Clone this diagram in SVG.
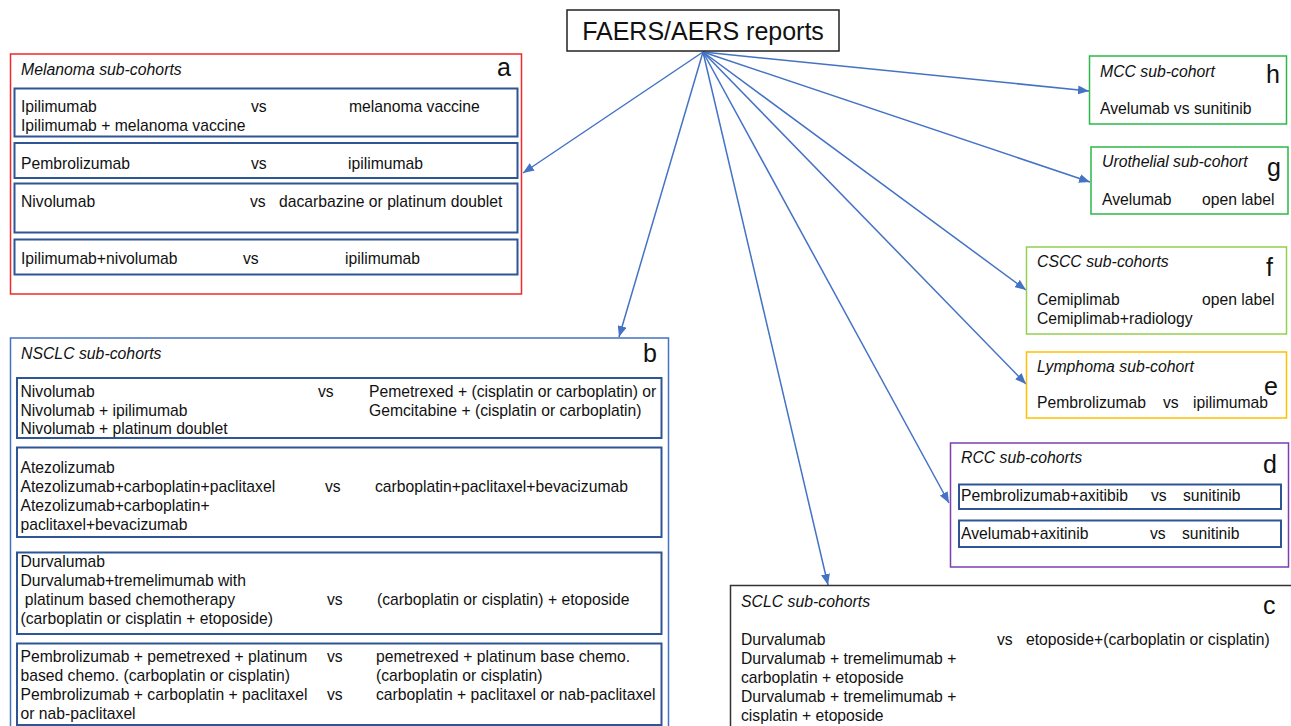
<svg xmlns="http://www.w3.org/2000/svg" width="1291" height="726" viewBox="0 0 1291 726">
<defs>
<style>
text{font-family:"Liberation Sans",Arial,sans-serif;font-size:15.7px;fill:#111}
.t{font-style:italic;font-size:15.8px}
.lab{font-size:25px}
.inner{fill:none;stroke:#2f5597;stroke-width:2}
.conn{stroke:#4472c4;stroke-width:1.5;fill:none;marker-end:url(#ah)}
</style>
<marker id="ah" markerUnits="userSpaceOnUse" markerWidth="11" markerHeight="9" refX="11" refY="4.5" orient="auto">
<path d="M0,0 L11,4.5 L0,9 z" fill="#4472c4"/>
</marker>
</defs>
<rect width="1291" height="726" fill="#fff"/>

<g id="connectors">
<line class="conn" x1="703" y1="52" x2="523" y2="173"/>
<line class="conn" x1="703" y1="52" x2="619" y2="337"/>
<line class="conn" x1="703" y1="52" x2="828" y2="585"/>
<line class="conn" x1="703" y1="52" x2="949" y2="503"/>
<line class="conn" x1="703" y1="52" x2="1026" y2="384"/>
<line class="conn" x1="703" y1="52" x2="1026" y2="290"/>
<line class="conn" x1="703" y1="52" x2="1090" y2="182"/>
<line class="conn" x1="703" y1="52" x2="1089" y2="91"/>
</g>

<g id="faers">
<rect x="567" y="10" width="272" height="41" fill="#fff" stroke="#222" stroke-width="1.5"/>
<text x="703" y="40" text-anchor="middle" style="font-size:25px">FAERS/AERS reports</text>
</g>

<g id="melanoma">
<rect x="10.5" y="54" width="511" height="240" fill="none" stroke="#f02828" stroke-width="1.5"/>
<text class="t" x="21" y="75">Melanoma sub-cohorts</text>
<text class="lab" x="497" y="76">a</text>
<rect class="inner" x="14.5" y="88.5" width="503" height="48"/>
<text x="21" y="112">Ipilimumab</text><text x="251" y="112">vs</text><text x="349" y="112">melanoma vaccine</text>
<text x="21" y="131">Ipilimumab + melanoma vaccine</text>
<rect class="inner" x="14.5" y="143" width="503" height="35"/>
<text x="21" y="169">Pembrolizumab</text><text x="251" y="169">vs</text><text x="348" y="169">ipilimumab</text>
<rect class="inner" x="14.5" y="183.5" width="503" height="49"/>
<text x="21" y="207">Nivolumab</text><text x="250" y="207">vs</text><text x="279" y="207">dacarbazine or platinum doublet</text>
<rect class="inner" x="14.5" y="239.5" width="503" height="35"/>
<text x="21" y="264">Ipilimumab+nivolumab</text><text x="243" y="264">vs</text><text x="345" y="264">ipilimumab</text>
</g>

<g id="nsclc">
<rect x="10.5" y="338" width="658" height="400" fill="none" stroke="#4472c4" stroke-width="1.5"/>
<text class="t" x="21" y="359">NSCLC sub-cohorts</text>
<text class="lab" x="643" y="362">b</text>
<rect class="inner" x="17" y="378" width="644.5" height="60"/>
<text x="20.5" y="397">Nivolumab</text><text x="318" y="397">vs</text><text x="369" y="397">Pemetrexed + (cisplatin or carboplatin) or</text>
<text x="20.5" y="416">Nivolumab + ipilimumab</text><text x="369" y="416">Gemcitabine + (cisplatin or carboplatin)</text>
<text x="20.5" y="434">Nivolumab + platinum doublet</text>
<rect class="inner" x="17" y="447.5" width="644.5" height="89.5"/>
<text x="20.5" y="473">Atezolizumab</text>
<text x="20.5" y="492">Atezolizumab+carboplatin+paclitaxel</text><text x="325" y="492">vs</text><text x="375" y="492">carboplatin+paclitaxel+bevacizumab</text>
<text x="20.5" y="511">Atezolizumab+carboplatin+</text>
<text x="20.5" y="530">paclitaxel+bevacizumab</text>
<rect class="inner" x="17" y="552.5" width="644.5" height="81.5"/>
<text x="20.5" y="567">Durvalumab</text>
<text x="20.5" y="586">Durvalumab+tremelimumab with</text>
<text x="20.5" y="605" xml:space="preserve"> platinum based chemotherapy</text><text x="327" y="605">vs</text><text x="377" y="605">(carboplatin or cisplatin) + etoposide</text>
<text x="20.5" y="624">(carboplatin or cisplatin + etoposide)</text>
<rect class="inner" x="17" y="643.5" width="644.5" height="81.5"/>
<text x="20.5" y="662">Pembrolizumab + pemetrexed + platinum</text><text x="327" y="662">vs</text><text x="376" y="662">pemetrexed + platinum base chemo.</text>
<text x="20.5" y="681">based chemo. (carboplatin or cisplatin)</text><text x="376" y="681">(carboplatin or cisplatin)</text>
<text x="20.5" y="700">Pembrolizumab + carboplatin + paclitaxel</text><text x="327" y="700">vs</text><text x="376" y="700">carboplatin + paclitaxel or nab-paclitaxel</text>
<text x="20.5" y="719">or nab-paclitaxel</text>
</g>

<g id="sclc">
<rect x="730.5" y="585.5" width="580" height="160" fill="none" stroke="#333" stroke-width="1.5"/>
<text class="t" x="741" y="607">SCLC sub-cohorts</text>
<text class="lab" x="1263" y="614">c</text>
<text x="741" y="645">Durvalumab</text><text x="997" y="645">vs</text><text x="1026" y="645">etoposide+(carboplatin or cisplatin)</text>
<text x="741" y="664">Durvalumab + tremelimumab +</text>
<text x="741" y="683">carboplatin + etoposide</text>
<text x="741" y="702">Durvalumab + tremelimumab +</text>
<text x="741" y="721">cisplatin + etoposide</text>
</g>

<g id="rcc">
<rect x="950.5" y="443" width="338" height="124" fill="none" stroke="#7b3fb0" stroke-width="1.5"/>
<text class="t" x="961" y="463">RCC sub-cohorts</text>
<text class="lab" x="1263" y="473">d</text>
<rect class="inner" x="959" y="484.5" width="322" height="24.5"/>
<text x="961" y="501">Pembrolizumab+axitibib</text><text x="1151" y="501">vs</text><text x="1183" y="501">sunitinib</text>
<rect class="inner" x="959" y="520.5" width="322" height="26.5"/>
<text x="961" y="539">Avelumab+axitinib</text><text x="1150" y="539">vs</text><text x="1182" y="539">sunitinib</text>
</g>

<g id="lymphoma">
<rect x="1026.5" y="352" width="260" height="66" fill="none" stroke="#ffc000" stroke-width="1.5"/>
<text class="t" x="1037" y="372">Lymphoma sub-cohort</text>
<text class="lab" x="1264" y="395">e</text>
<text x="1037" y="408">Pembrolizumab</text><text x="1163" y="408">vs</text><text x="1193" y="408">ipilimumab</text>
</g>

<g id="cscc">
<rect x="1026.5" y="247" width="260" height="87" fill="none" stroke="#92d050" stroke-width="1.5"/>
<text class="t" x="1037" y="267">CSCC sub-cohorts</text>
<text class="lab" x="1266" y="276">f</text>
<text x="1037" y="305">Cemiplimab</text><text x="1202" y="305">open label</text>
<text x="1037" y="324">Cemiplimab+radiology</text>
</g>

<g id="urothelial">
<rect x="1091" y="147" width="197" height="67" fill="none" stroke="#2db84a" stroke-width="1.5"/>
<text class="t" x="1102" y="167">Urothelial sub-cohort</text>
<text class="lab" x="1267" y="176">g</text>
<text x="1102" y="205">Avelumab</text><text x="1202" y="205">open label</text>
</g>

<g id="mcc">
<rect x="1089.5" y="56" width="197" height="68" fill="none" stroke="#2db84a" stroke-width="1.5"/>
<text class="t" x="1100" y="77">MCC sub-cohort</text>
<text class="lab" x="1266" y="83">h</text>
<text x="1100" y="114">Avelumab vs sunitinib</text>
</g>
</svg>
